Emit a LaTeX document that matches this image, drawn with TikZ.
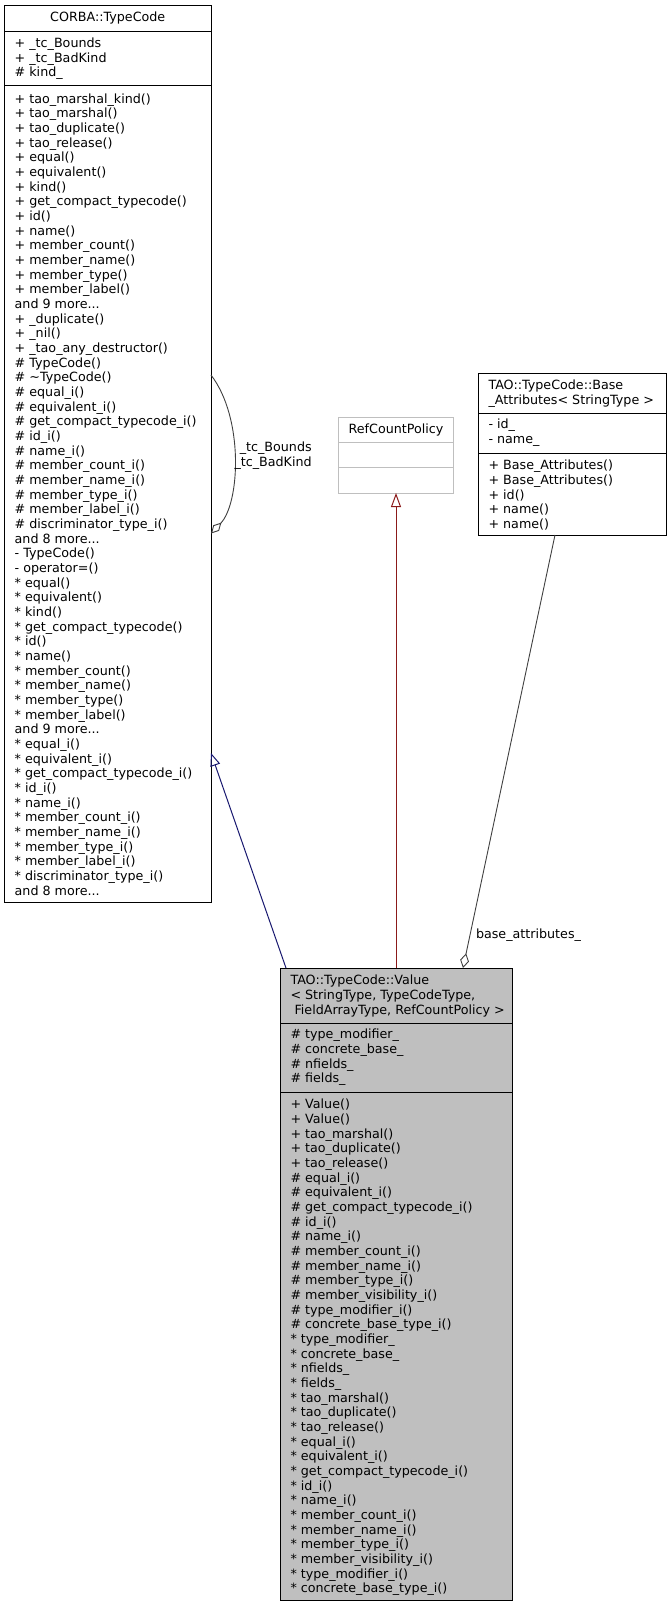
\documentclass[tikz,border=0pt]{standalone}
\usepackage{fontspec}
\setmainfont{DejaVu Sans}
\usetikzlibrary{arrows.meta}
\definecolor{edgeblue}{HTML}{191970}
\definecolor{edgered}{HTML}{8B1A1A}
\definecolor{edgegray}{HTML}{404040}
\definecolor{boxgray}{HTML}{BFBFBF}
\newcommand{\umlstar}{{*}}
\begin{document}
\begin{tikzpicture}[x=1pt,y=-1pt,
  umlbox/.style={draw=black, line width=1pt, fill=white, inner sep=0pt, outer sep=0pt, anchor=north west},
  sepline/.style={line width=1pt},
  txt/.style={inner sep=0pt, outer sep=0pt, font=\fontsize{12.7}{14.67}\selectfont},
  inhblue/.style={draw=edgeblue, line width=1pt, -{Triangle[open, length=13pt, width=10pt]}},
  inhred/.style={draw=edgered, line width=1pt, -{Triangle[open, length=14pt, width=10pt]}},
  aggline/.style={draw=edgegray, line width=0.9pt, -{Diamond[open, length=15pt, width=9pt]}}]
\useasboundingbox (0,0) rectangle (671,1608);

% ---------------- CORBA::TypeCode ----------------
\node[umlbox, minimum width=206.5pt, minimum height=896.5pt] (corba) at (4.5,5.5) {};
\draw[sepline] (4.5,31.7) -- (211,31.7);
\draw[sepline] (4.5,86) -- (211,86);
\node[txt, anchor=base] (corbaT) at (107.75,22) {CORBA::TypeCode};
\node[txt, anchor=base west] (corbaA) at (14.7,47.5) {\begin{tabular}[t]{@{}l@{}}
+ \_tc\_Bounds\\
+ \_tc\_BadKind\\
\# kind\_
\end{tabular}};
\node[txt, anchor=base west] (corbaM) at (14.7,103.1) {\begin{tabular}[t]{@{}l@{}}
+ tao\_marshal\_kind()\\
+ tao\_marshal()\\
+ tao\_duplicate()\\
+ tao\_release()\\
+ equal()\\
+ equivalent()\\
+ kind()\\
+ get\_compact\_typecode()\\
+ id()\\
+ name()\\
+ member\_count()\\
+ member\_name()\\
+ member\_type()\\
+ member\_label()\\
and 9 more...\\
+ \_duplicate()\\
+ \_nil()\\
+ \_tao\_any\_destructor()\\
\# TypeCode()\\
\# \textasciitilde{}TypeCode()\\
\# equal\_i()\\
\# equivalent\_i()\\
\# get\_compact\_typecode\_i()\\
\# id\_i()\\
\# name\_i()\\
\# member\_count\_i()\\
\# member\_name\_i()\\
\# member\_type\_i()\\
\# member\_label\_i()\\
\# discriminator\_type\_i()\\
and 8 more...\\
- TypeCode()\\
- operator=()\\
\umlstar{} equal()\\
\umlstar{} equivalent()\\
\umlstar{} kind()\\
\umlstar{} get\_compact\_typecode()\\
\umlstar{} id()\\
\umlstar{} name()\\
\umlstar{} member\_count()\\
\umlstar{} member\_name()\\
\umlstar{} member\_type()\\
\umlstar{} member\_label()\\
and 9 more...\\
\umlstar{} equal\_i()\\
\umlstar{} equivalent\_i()\\
\umlstar{} get\_compact\_typecode\_i()\\
\umlstar{} id\_i()\\
\umlstar{} name\_i()\\
\umlstar{} member\_count\_i()\\
\umlstar{} member\_name\_i()\\
\umlstar{} member\_type\_i()\\
\umlstar{} member\_label\_i()\\
\umlstar{} discriminator\_type\_i()\\
and 8 more...
\end{tabular}};

% ---------------- RefCountPolicy ----------------
\node[umlbox, draw=boxgray, minimum width=115pt, minimum height=76pt] (refc) at (338.5,417) {};
\draw[sepline, draw=boxgray] (338.5,442) -- (453.5,442);
\draw[sepline, draw=boxgray] (338.5,467) -- (453.5,467);
\node[txt, anchor=base] (refcT) at (396,433) {RefCountPolicy};

% ---------------- Base_Attributes ----------------
\node[umlbox, minimum width=188pt, minimum height=162pt] (base) at (478,373) {};
\draw[sepline] (478,413) -- (666,413);
\draw[sepline] (478,453) -- (666,453);
\node[txt, anchor=base west] (baseT) at (488.5,389.8) {\begin{tabular}[t]{@{}l@{}}
TAO::TypeCode::Base\\
\_Attributes< StringType >
\end{tabular}};
\node[txt, anchor=base west] (baseA) at (488.5,428.8) {\begin{tabular}[t]{@{}l@{}}
- id\_\\
- name\_
\end{tabular}};
\node[txt, anchor=base west] (baseM) at (488.5,469.8) {\begin{tabular}[t]{@{}l@{}}
+ Base\_Attributes()\\
+ Base\_Attributes()\\
+ id()\\
+ name()\\
+ name()
\end{tabular}};

% ---------------- TAO::TypeCode::Value ----------------
\node[umlbox, fill=boxgray, minimum width=232pt, minimum height=632pt] (value) at (280,968) {};
\draw[sepline] (280,1023) -- (512,1023);
\draw[sepline] (280,1092) -- (512,1092);
\node[txt, anchor=base west] (valueT) at (290.5,984.8) {\begin{tabular}[t]{@{}l@{}}
TAO::TypeCode::Value\\
< StringType, TypeCodeType,\\
\ FieldArrayType, RefCountPolicy >
\end{tabular}};
\node[txt, anchor=base west] (valueA) at (290.5,1038.8) {\begin{tabular}[t]{@{}l@{}}
\# type\_modifier\_\\
\# concrete\_base\_\\
\# nfields\_\\
\# fields\_
\end{tabular}};
\node[txt, anchor=base west] (valueM) at (290.5,1108.8) {\begin{tabular}[t]{@{}l@{}}
+ Value()\\
+ Value()\\
+ tao\_marshal()\\
+ tao\_duplicate()\\
+ tao\_release()\\
\# equal\_i()\\
\# equivalent\_i()\\
\# get\_compact\_typecode\_i()\\
\# id\_i()\\
\# name\_i()\\
\# member\_count\_i()\\
\# member\_name\_i()\\
\# member\_type\_i()\\
\# member\_visibility\_i()\\
\# type\_modifier\_i()\\
\# concrete\_base\_type\_i()\\
\umlstar{} type\_modifier\_\\
\umlstar{} concrete\_base\_\\
\umlstar{} nfields\_\\
\umlstar{} fields\_\\
\umlstar{} tao\_marshal()\\
\umlstar{} tao\_duplicate()\\
\umlstar{} tao\_release()\\
\umlstar{} equal\_i()\\
\umlstar{} equivalent\_i()\\
\umlstar{} get\_compact\_typecode\_i()\\
\umlstar{} id\_i()\\
\umlstar{} name\_i()\\
\umlstar{} member\_count\_i()\\
\umlstar{} member\_name\_i()\\
\umlstar{} member\_type\_i()\\
\umlstar{} member\_visibility\_i()\\
\umlstar{} type\_modifier\_i()\\
\umlstar{} concrete\_base\_type\_i()
\end{tabular}};

% ---------------- connectors ----------------
\draw[aggline, -{Diamond[open, length=15pt, width=8pt]}] ([yshift=-369.5pt]corba.north east) .. controls (244,418) and (240,503) .. ([yshift=-528pt]corba.north east);
\node[txt, anchor=base east] (loopL) at (311.7,451.8) {\begin{tabular}[t]{@{}r@{}}
\_tc\_Bounds\\
\_tc\_BadKind
\end{tabular}};

\draw[inhblue] ([xshift=6pt]value.north west) -- ([yshift=-747.5pt]corba.north east);
\draw[inhred] (value.north) -- (refc.south);
\draw[aggline] ([xshift=-17pt]base.south) -- ([xshift=67pt]value.north);
\node[txt, anchor=base west] (aggL) at (476,938.8) {base\_attributes\_};
\end{tikzpicture}
\end{document}
